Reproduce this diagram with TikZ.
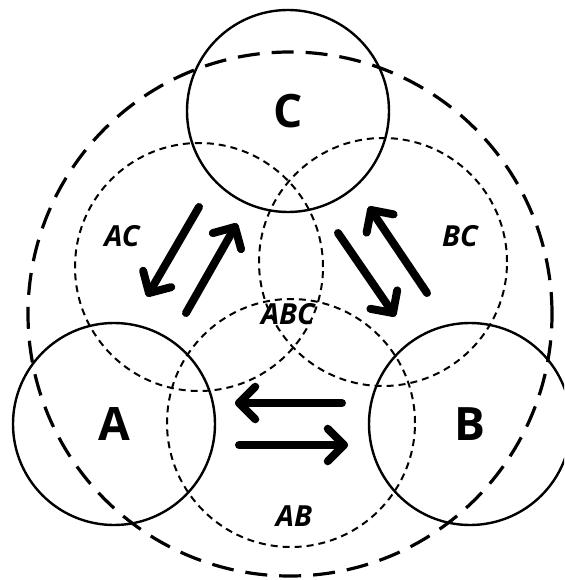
\documentclass[tikz,border=0pt]{standalone}
\usepackage{fontspec}
\newfontfamily\osans{Open Sans}
\usetikzlibrary{calc}
\newcommand\bigf{\osans\bfseries\fontsize{46}{46}\selectfont}
\newcommand\labf{\osans\bfseries\itshape\fontsize{29}{29}\selectfont}
\tikzset{
  solidc/.style={circle, draw, line width=2.4pt, minimum size=202pt, inner sep=0pt, outer sep=0pt, font=\bigf},
  pairc/.style={circle, draw, line width=2pt, dash pattern=on 7pt off 5pt, minimum size=248pt, inner sep=0pt, outer sep=0pt},
  outerc/.style={circle, draw, line width=3.2pt, dash pattern=on 22pt off 12pt, minimum size=524pt, inner sep=0pt, outer sep=0pt},
  lab/.style={font=\labf, inner sep=0pt},
  fat/.style={line width=8pt, line cap=round, line join=round}
}
\newcommand\fatarrow[2]{%
  \draw[fat] (#1) -- (#2);
  \draw[fat] ($(#2)!23pt!45:(#1)$) -- (#2) -- ($(#2)!23pt!-45:(#1)$);}
\begin{document}
\begin{tikzpicture}[x=1pt,y=-1pt]
\useasboundingbox (0,0) rectangle (564,580);
\begin{scope}
\clip (0,0) rectangle (564,580);
\node[outerc] (O) at (290,314) {};
\node[pairc] (AC) at (199,267) {};
\node[pairc] (BC) at (383,262) {};
\node[pairc] (AB) at (291,423) {};
\node[solidc] (C) at (288,111) {C};
\node[solidc] (A) at (114,424) {A};
\node[solidc] (B) at (470,424) {B};
\end{scope}
\node[lab] (lAC) at (122,236) {AC};
\node[lab] (lBC) at (460,236) {BC};
\node[lab] (lABC) at (288,314) {ABC};
\node[lab] (lAB) at (294,516) {AB};
% arrow end points
\coordinate (h1t) at (342,403); \coordinate (h1h) at (239,403);
\coordinate (h2t) at (239,445); \coordinate (h2h) at (344,445);
\coordinate (d1t) at (199,207); \coordinate (d1h) at (149,293);
\coordinate (d2t) at (186,313); \coordinate (d2h) at (235,227);
\coordinate (d3t) at (338,233); \coordinate (d3h) at (393,313);
\coordinate (d4t) at (427,293); \coordinate (d4h) at (371,210);
\fatarrow{h1t}{h1h}
\fatarrow{h2t}{h2h}
\fatarrow{d1t}{d1h}
\fatarrow{d2t}{d2h}
\fatarrow{d3t}{d3h}
\fatarrow{d4t}{d4h}
\end{tikzpicture}
\end{document}
